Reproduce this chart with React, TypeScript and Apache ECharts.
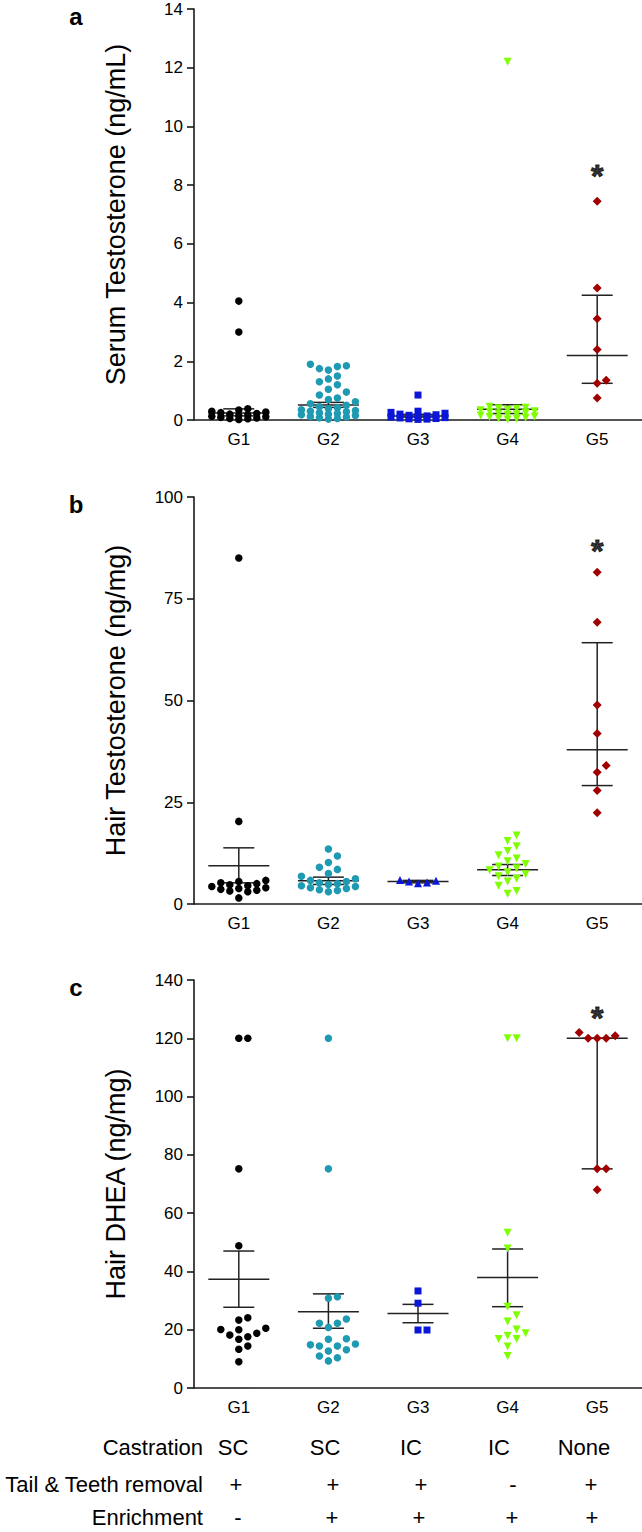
import React, { useEffect, useRef } from "react";
import * as echarts from "echarts";

const groups = ["G1", "G2", "G3", "G4", "G5"];
const groupColors = ["#000000", "#1e9ab2", "#0a16d8", "#7fff00", "#a00000"];

// Panel a: Serum Testosterone (ng/mL)
const serumG1 = [4.05, 3.0, 0.38, 0.34, 0.3, 0.27, 0.25, 0.22, 0.2, 0.18, 0.15, 0.13, 0.11, 0.09, 0.07, 0.05, 0.04, 0.02];
const serumG2 = [1.9, 1.85, 1.82, 1.75, 1.7, 1.5, 1.4, 1.3, 1.2, 1.05, 0.95, 0.85, 0.75, 0.7, 0.62, 0.55, 0.5, 0.45, 0.42, 0.38, 0.35, 0.32, 0.3, 0.28, 0.25, 0.22, 0.2, 0.18, 0.15, 0.12, 0.1, 0.08, 0.05, 0.03];
const serumG3 = [0.85, 0.3, 0.26, 0.23, 0.2, 0.18, 0.16, 0.14, 0.12, 0.1, 0.08, 0.07, 0.05, 0.04, 0.03, 0.02];
const serumG4 = [12.2, 0.45, 0.42, 0.4, 0.38, 0.35, 0.33, 0.3, 0.28, 0.25, 0.22, 0.2, 0.18, 0.15, 0.12, 0.1, 0.08, 0.06, 0.04, 0.02];
const serumG5 = [7.45, 4.5, 3.45, 2.4, 1.35, 1.25, 0.75];
const serumCenter = [0.24, 0.51, 0.14, 0.37, 2.2];
const serumLower = [0.14, 0.43, 0.1, 0.22, 1.25];
const serumUpper = [0.38, 0.6, 0.19, 0.52, 4.25];
const serumStar = 8.6;

// Panel b: Hair Testosterone (ng/mg)
const hairTG1 = [85, 20.3, 5.8, 5.5, 5.2, 5.0, 4.7, 4.5, 4.3, 4.0, 3.8, 3.6, 3.4, 3.2, 3.0, 1.5];
const hairTG2 = [13.5, 11.8, 10.2, 9.0, 8.5, 7.5, 6.8, 6.2, 5.8, 5.5, 5.2, 5.0, 4.8, 4.5, 4.3, 4.0, 3.8, 3.5, 3.3, 3.0];
const hairTG3 = [5.9, 5.7, 5.5, 5.3, 5.1];
const hairTG4 = [16.8, 15.5, 14.2, 13.0, 12.0, 11.2, 10.5, 9.8, 9.2, 8.8, 8.3, 7.8, 7.3, 6.8, 6.2, 5.5, 4.5, 3.2, 2.5];
const hairTG5 = [81.5, 69.2, 48.9, 41.9, 34.0, 32.4, 27.9, 22.4];
const hairTCenter = [9.4, 5.7, 5.5, 8.4, 37.9];
const hairTLower = [5.2, 4.8, 5.2, 7.0, 29.1];
const hairTUpper = [13.8, 6.6, 5.8, 9.7, 64.2];
const hairTStar = 88.7;

// Panel c: Hair DHEA (ng/mg)
const dheaG1 = [120, 120, 75.2, 48.8, 24.1, 23.3, 20.5, 20.1, 20.0, 18.8, 18.2, 17.6, 16.7, 14.4, 13.3, 9.0];
const dheaG2 = [120, 75.2, 31.3, 30.8, 23.7, 22.2, 22.2, 20.8, 16.9, 16.7, 15.1, 14.8, 14.4, 14.4, 13.1, 12.7, 11.0, 10.4, 9.3];
const dheaG3 = [33.3, 29.1, 19.9, 19.9];
const dheaG4 = [120, 120, 53.3, 47.9, 27.9, 25.0, 22.8, 20.1, 18.8, 17.9, 16.8, 16.8, 14.2, 11.0];
const dheaG5 = [122, 120, 120, 120, 120.9, 75.2, 75.2, 68];
const dheaCenter = [37.3, 26.2, 25.6, 37.9, 120];
const dheaLower = [27.7, 20.5, 22.4, 27.9, 75.2];
const dheaUpper = [47.0, 32.3, 28.7, 47.7, 120];
const dheaStar = 129.7;

// Treatment table
const tableRowLabels = ["Castration", "Tail & Teeth removal", "Enrichment"];
const castration = ["SC", "SC", "IC", "IC", "None"];
const tailTeeth = ["+", "+", "+", "-", "+"];
const enrichment = ["-", "+", "+", "+", "+"];

// ---- layout ----
const W = 642;
const H = 1532;
const GRID_LEFT = 194;
const GRID_W = 448;
const FONT = '"Liberation Sans", Arial, sans-serif';

const panels = [
  {
    top: 9, height: 411, max: 14, interval: 2, label: "a",
    title: "Serum Testosterone (ng/mL)",
    data: [serumG1, serumG2, serumG3, serumG4, serumG5],
    center: serumCenter, lower: serumLower, upper: serumUpper, star: serumStar,
    symbols: ["circle", "circle", "rect", "triangle-down", "diamond"],
  },
  {
    top: 497, height: 407, max: 100, interval: 25, label: "b",
    title: "Hair Testosterone (ng/mg)",
    data: [hairTG1, hairTG2, hairTG3, hairTG4, hairTG5],
    center: hairTCenter, lower: hairTLower, upper: hairTUpper, star: hairTStar,
    symbols: ["circle", "circle", "triangle", "triangle-down", "diamond"],
  },
  {
    top: 980, height: 408, max: 140, interval: 20, label: "c",
    title: "Hair DHEA (ng/mg)",
    data: [dheaG1, dheaG2, dheaG3, dheaG4, dheaG5],
    center: dheaCenter, lower: dheaLower, upper: dheaUpper, star: dheaStar,
    symbols: ["circle", "circle", "rect", "triangle-down", "diamond"],
  },
];

const symbolSizes: Record<string, number> = {
  circle: 7.5,
  rect: 7,
  triangle: 8,
  "triangle-down": 8,
  diamond: 9,
};

// simple beeswarm: spread points sideways (at most 3 steps each side)
function swarm(values: number[], gi: number, pxPerY: number, step: number) {
  const pxPerX = GRID_W / 5;
  const order = values.map((_, i) => i).sort((a, b) => values[a] - values[b]);
  const placed: { x: number; y: number }[] = [];
  const out: number[][] = new Array(values.length);
  const ks = [0, 1, -1, 2, -2, 3, -3];
  for (const i of order) {
    const y = values[i] * pxPerY;
    let best = 0;
    let bestD = -1;
    for (const k of ks) {
      const x = k * step;
      let minD = Infinity;
      for (const p of placed) {
        const dx = p.x - x;
        const dy = p.y - y;
        minD = Math.min(minD, dx * dx + dy * dy);
      }
      if (minD >= step * step * 0.92) {
        best = x;
        bestD = Infinity;
        break;
      }
      if (minD > bestD) {
        bestD = minD;
        best = x;
      }
    }
    placed.push({ x: best, y });
    out[i] = [gi + 1 + best / pxPerX, values[i]];
  }
  return out;
}

function buildOption() {
  const grid: any[] = [];
  const xAxis: any[] = [];
  const yAxis: any[] = [];
  const series: any[] = [];
  const graphic: any[] = [];
  const axisLineStyle = { color: "#1a1a1a", width: 1.6 };

  panels.forEach((p, pi) => {
    grid.push({ left: GRID_LEFT, width: GRID_W, top: p.top, height: p.height });
    xAxis.push({
      type: "category",
      gridIndex: pi,
      data: groups,
      boundaryGap: true,
      axisLine: { lineStyle: axisLineStyle },
      axisTick: { alignWithLabel: true, length: 7, lineStyle: axisLineStyle },
      axisLabel: { color: "#000", fontSize: 17, fontFamily: FONT, margin: 11 },
      splitLine: { show: false },
    });
    xAxis.push({
      type: "value",
      gridIndex: pi,
      min: 0.5,
      max: 5.5,
      show: false,
      splitLine: { show: false },
    });
    yAxis.push({
      type: "value",
      gridIndex: pi,
      min: 0,
      max: p.max,
      interval: p.interval,
      axisLine: { show: true, lineStyle: axisLineStyle },
      axisTick: { show: true, length: 7, lineStyle: axisLineStyle },
      axisLabel: { color: "#000", fontSize: 17, fontFamily: FONT, margin: 11 },
      splitLine: { show: false },
    });

    const pxPerY = p.height / p.max;
    const vx = pi * 2 + 1;

    // error bars (mean ± SEM / median + range)
    series.push({
      type: "custom",
      xAxisIndex: vx,
      yAxisIndex: pi,
      z: 3,
      data: groups.map((_, gi) => [gi + 1, p.center[gi], p.lower[gi], p.upper[gi]]),
      encode: { x: 0, y: [1, 2, 3] },
      renderItem: (params: any, api: any) => {
        const x = api.value(0);
        const pc = api.coord([x, api.value(1)]);
        const pl = api.coord([x, api.value(2)]);
        const ph = api.coord([x, api.value(3)]);
        const style = { stroke: "#222", lineWidth: 1.5, fill: null };
        return {
          type: "group",
          children: [
            { type: "line", shape: { x1: pc[0] - 30.5, y1: pc[1], x2: pc[0] + 30.5, y2: pc[1] }, style },
            { type: "line", shape: { x1: pl[0] - 15.5, y1: pl[1], x2: pl[0] + 15.5, y2: pl[1] }, style },
            { type: "line", shape: { x1: ph[0] - 15.5, y1: ph[1], x2: ph[0] + 15.5, y2: ph[1] }, style },
            { type: "line", shape: { x1: pl[0], y1: pl[1], x2: ph[0], y2: ph[1] }, style },
          ],
        };
      },
    });

    p.data.forEach((vals, gi) => {
      const sym = p.symbols[gi];
      const isDown = sym === "triangle-down";
      const size = symbolSizes[sym];
      series.push({
        type: "scatter",
        xAxisIndex: vx,
        yAxisIndex: pi,
        z: 4,
        symbol: isDown ? "triangle" : sym,
        symbolRotate: isDown ? 180 : 0,
        symbolSize: size,
        itemStyle: { color: groupColors[gi], opacity: 1 },
        data: swarm(vals, gi, pxPerY, 9),
      });
    });

    // significance asterisk
    series.push({
      type: "scatter",
      xAxisIndex: vx,
      yAxisIndex: pi,
      z: 5,
      symbol: "circle",
      symbolSize: 1,
      itemStyle: { color: "rgba(255,255,255,0)" },
      label: {
        show: true,
        position: "inside",
        formatter: "*",
        color: "#000",
        fontSize: 32,
        fontWeight: "bold",
        fontFamily: FONT,
        textBorderColor: "#000",
        textBorderWidth: 1,
        offset: [0, 8],
      },
      emphasis: { disabled: true },
      data: [[5, p.star]],
    });

    graphic.push({
      type: "text",
      x: 116,
      y: p.top + p.height / 2,
      rotation: Math.PI / 2,
      style: {
        text: p.title,
        font: `27px ${FONT}`,
        fill: "#000",
        align: "center",
        verticalAlign: "middle",
      },
    });
    graphic.push({
      type: "text",
      x: 76,
      y: p.top + 7,
      style: {
        text: p.label,
        font: `bold 24px ${FONT}`,
        fill: "#000",
        align: "center",
        verticalAlign: "middle",
      },
    });
  });

  // treatment table
  const rowY = [1447, 1484, 1517];
  const rowVals = [castration, tailTeeth, enrichment];
  const colX = [
    [233, 325, 411, 499, 584],
    [236, 333, 421, 513, 591],
    [238, 332, 419, 512, 592],
  ];
  tableRowLabels.forEach((lab, ri) => {
    graphic.push({
      type: "text",
      x: 203,
      y: rowY[ri],
      style: { text: lab, font: `22px ${FONT}`, fill: "#000", align: "right", verticalAlign: "middle" },
    });
    rowVals[ri].forEach((v, ci) => {
      graphic.push({
        type: "text",
        x: colX[ri][ci],
        y: rowY[ri],
        style: { text: v, font: `22px ${FONT}`, fill: "#000", align: "center", verticalAlign: "middle" },
      });
    });
  });

  return {
    animation: false,
    backgroundColor: "#ffffff",
    textStyle: { fontFamily: FONT },
    grid,
    xAxis,
    yAxis,
    series,
    graphic,
  };
}

export default function App() {
  const ref = useRef<HTMLDivElement>(null);
  useEffect(() => {
    document.body.style.margin = "0";
    if (!ref.current) return;
    const chart = echarts.init(ref.current, undefined, { renderer: "svg" });
    chart.setOption(buildOption() as any);
    return () => chart.dispose();
  }, []);
  return <div ref={ref} style={{ width: W, height: H, background: "#fff" }} />;
}
